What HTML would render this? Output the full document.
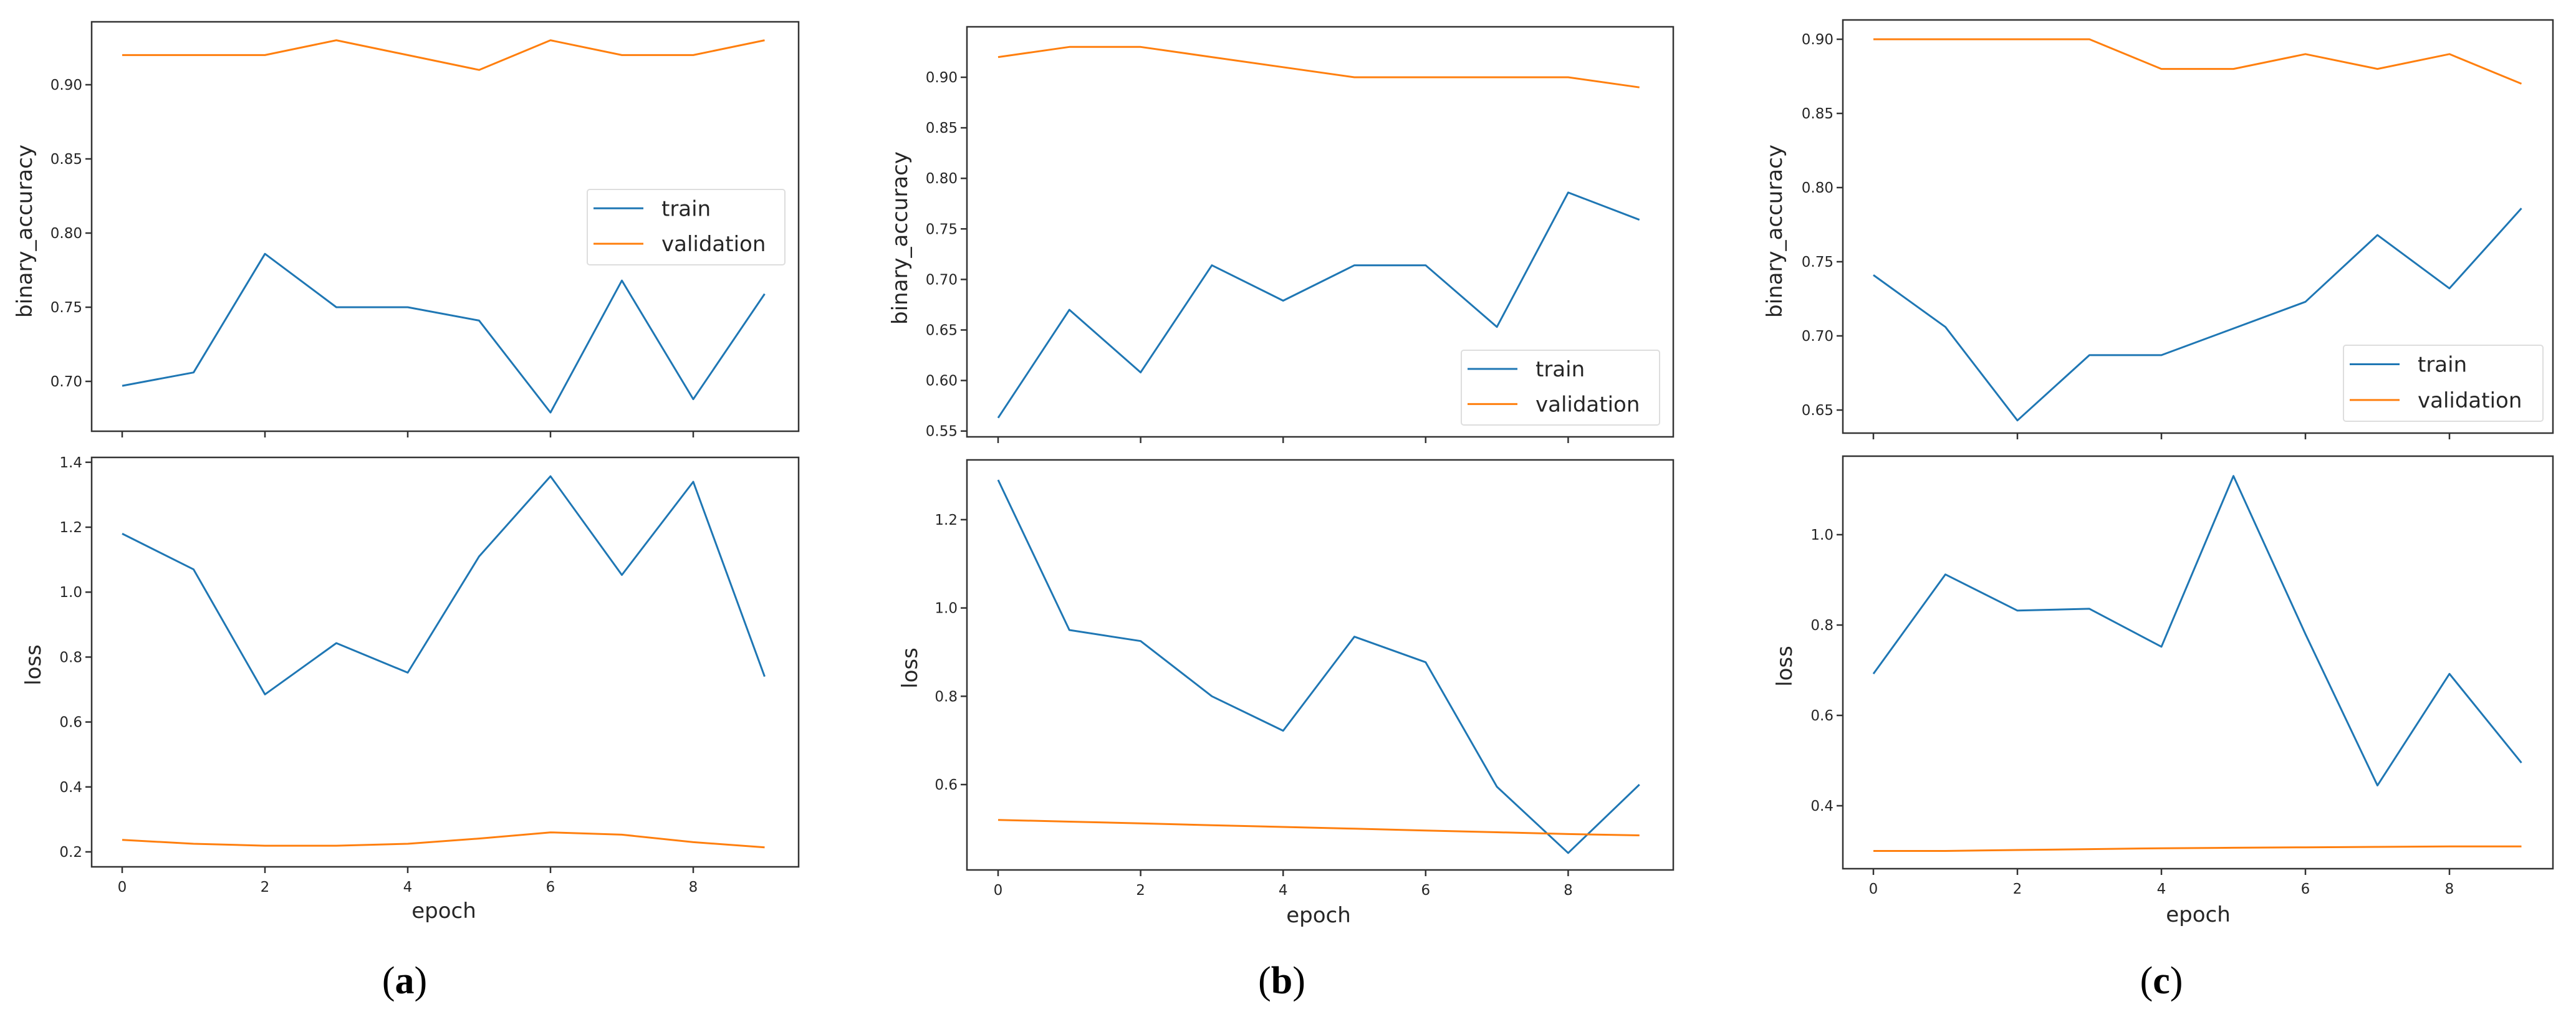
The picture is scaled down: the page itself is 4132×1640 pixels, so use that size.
<!DOCTYPE html>
<html><head><meta charset="utf-8"><style>
html,body{margin:0;padding:0;background:#fff;}
svg{display:block;}
text{font-family:"DejaVu Sans","Liberation Sans",sans-serif;fill:#262626;}
</style></head>
<body>
<svg id="fig" width="4132" height="1640" viewBox="0 0 4132 1640" xmlns="http://www.w3.org/2000/svg"></svg>
<script>
const epochs = [0,1,2,3,4,5,6,7,8,9];
const xTicks = [0,2,4,6,8];
// panel a
const aAccTrain = [0.697,0.706,0.786,0.75,0.75,0.741,0.679,0.768,0.688,0.759];
const aAccVal   = [0.92,0.92,0.92,0.93,0.92,0.91,0.93,0.92,0.92,0.93];
const aLossTrain = [1.18,1.07,0.685,0.843,0.752,1.11,1.357,1.053,1.34,0.74];
const aLossVal   = [0.237,0.225,0.219,0.219,0.225,0.241,0.26,0.253,0.23,0.214];
const aAccTicks = ["0.70","0.75","0.80","0.85","0.90"];
const aLossTicks = ["0.2","0.4","0.6","0.8","1.0","1.2","1.4"];
// panel b
const bAccTrain = [0.563,0.67,0.608,0.714,0.679,0.714,0.714,0.653,0.786,0.759];
const bAccVal   = [0.92,0.93,0.93,0.92,0.91,0.90,0.90,0.90,0.90,0.89];
const bLossTrain = [1.29,0.95,0.925,0.80,0.722,0.935,0.877,0.595,0.445,0.60];
const bLossVal   = [0.52,0.516,0.512,0.508,0.504,0.50,0.496,0.492,0.488,0.485];
const bAccTicks = ["0.55","0.60","0.65","0.70","0.75","0.80","0.85","0.90"];
const bLossTicks = ["0.6","0.8","1.0","1.2"];
// panel c
const cAccTrain = [0.741,0.706,0.643,0.687,0.687,0.705,0.723,0.768,0.732,0.786];
const cAccVal   = [0.90,0.90,0.90,0.90,0.88,0.88,0.89,0.88,0.89,0.87];
const cLossTrain = [0.692,0.912,0.832,0.836,0.752,1.13,0.78,0.445,0.692,0.495];
const cLossVal   = [0.30,0.30,0.302,0.304,0.306,0.307,0.308,0.309,0.31,0.31];
const cAccTicks = ["0.65","0.70","0.75","0.80","0.85","0.90"];
const cLossTicks = ["0.4","0.6","0.8","1.0"];

const NS="http://www.w3.org/2000/svg";
const svg=document.getElementById('fig');
function mk(tag,attrs,parent){const e=document.createElementNS(NS,tag);for(const k in attrs)e.setAttribute(k,attrs[k]);(parent||svg).appendChild(e);return e;}

const panels=[
 {id:'a',left:147,right:1281,x0:196,dx:114.5,
  top:{t:35,b:692,v0:0.90,y0:136,k:119/0.05,tr:aAccTrain,va:aAccVal,ticks:aAccTicks},
  bot:{t:734,b:1391,v0:0.2,y0:1367,k:104.2/0.2,tr:aLossTrain,va:aLossVal,ticks:aLossTicks},
  leg:{x:942,y:304,w:317,h:121},accLab:[40,371],lossLab:[54,1067],epoch:[712,1462],cap:[649,1574]},
 {id:'b',left:1551,right:2684,x0:1601,dx:114.3,
  top:{t:43,b:701,v0:0.90,y0:124,k:81.1/0.05,tr:bAccTrain,va:bAccVal,ticks:bAccTicks},
  bot:{t:738,b:1396,v0:0.6,y0:1259,k:141.7/0.2,tr:bLossTrain,va:bLossVal,ticks:bLossTicks},
  leg:{x:2344,y:562,w:318,h:120},accLab:[1444,382],lossLab:[1460,1072],epoch:[2115,1469],cap:[2056,1574]},
 {id:'c',left:2956,right:4095,x0:3005,dx:115.5,
  top:{t:32,b:695,v0:0.90,y0:63,k:119/0.05,tr:cAccTrain,va:cAccVal,ticks:cAccTicks},
  bot:{t:732,b:1394,v0:0.4,y0:1293,k:145/0.2,tr:cLossTrain,va:cLossVal,ticks:cLossTicks},
  leg:{x:3759,y:554,w:320,h:122},accLab:[2847,371],lossLab:[2863,1069],epoch:[3526,1468],cap:[3467,1574]}
];

function drawAxes(p,ax,kind,g,showXLabels){
  const xs=e=>p.x0+e*p.dx;
  const ys=v=>ax.y0-(v-ax.v0)*ax.k;
  const clip=mk('clipPath',{id:'clip-'+p.id+kind},g);
  mk('rect',{x:p.left,y:ax.t,width:p.right-p.left,height:ax.b-ax.t},clip);
  const lines=mk('g',{'clip-path':'url(#clip-'+p.id+kind+')'},g);
  const series=[[ax.tr,'#1f77b4','train'],[ax.va,'#ff7f0e','validation']];
  series.forEach(s=>{
    const pts=epochs.map((e,i)=>xs(e).toFixed(1)+','+ys(s[0][i]).toFixed(1)).join(' ');
    const pl=mk('polyline',{points:pts,fill:'none',stroke:s[1],'stroke-width':3,'stroke-linejoin':'round'},lines);
    
    
  });
  const frame=mk('rect',{x:p.left,y:ax.t,width:p.right-p.left,height:ax.b-ax.t,fill:'none',stroke:'#333','stroke-width':2.5},g);
  
  
  ax.ticks.forEach(t=>{
    const y=ys(parseFloat(t));
    mk('line',{x1:p.left-10,x2:p.left,y1:y,y2:y,stroke:'#333','stroke-width':2.5},g);
    const tx=mk('text',{x:p.left-15,y:y+8,'text-anchor':'end','font-size':23},g);
    tx.textContent=t;
    
    
  });
  xTicks.forEach(t=>{
    const x=xs(t);
    mk('line',{x1:x,x2:x,y1:ax.b,y2:ax.b+10,stroke:'#333','stroke-width':2.5},g);
    if(showXLabels){
      const tx=mk('text',{x:x,y:ax.b+40,'text-anchor':'middle','font-size':23},g);
      tx.textContent=String(t);
      
      
    }
  });
}

panels.forEach(p=>{
  const g=mk('g',{});
  
  
  drawAxes(p,p.top,'accuracy',g,false);
  drawAxes(p,p.bot,'loss',g,true);
  // legend
  const lg=mk('g',{},g);
  
  
  mk('rect',{x:p.leg.x,y:p.leg.y,width:p.leg.w,height:p.leg.h,rx:4,fill:'#fff','fill-opacity':0.8,stroke:'#ddd','stroke-width':2},lg);
  [['train','#1f77b4',0.25],['validation','#ff7f0e',0.72]].forEach(e=>{
    const y=p.leg.y+p.leg.h*e[2];
    mk('line',{x1:p.leg.x+10,x2:p.leg.x+90,y1:y,y2:y,stroke:e[1],'stroke-width':3},lg);
    const t=mk('text',{x:p.leg.x+119,y:y+12,'font-size':34},lg);
    t.textContent=e[0];
    
    
  });
  const al=mk('text',{x:p.accLab[0],y:p.accLab[1],'text-anchor':'middle','font-size':34,transform:'rotate(-90 '+p.accLab[0]+' '+p.accLab[1]+')','dominant-baseline':'central'},g);
  al.textContent='binary_accuracy';
  
  
  const ll=mk('text',{x:p.lossLab[0],y:p.lossLab[1],'text-anchor':'middle','font-size':34,transform:'rotate(-90 '+p.lossLab[0]+' '+p.lossLab[1]+')','dominant-baseline':'central'},g);
  ll.textContent='loss';
  
  
  const el=mk('text',{x:p.epoch[0],y:p.epoch[1],'text-anchor':'middle','font-size':34,'dominant-baseline':'central'},g);
  el.textContent='epoch';
  
  
  const cap=mk('text',{x:p.cap[0],y:p.cap[1],'text-anchor':'middle','font-size':62,'dominant-baseline':'central',style:'font-family:"Liberation Serif",serif;fill:#000'},g);
  cap.innerHTML='(<tspan font-weight="bold">'+p.id+'</tspan>)';
  
  
});
</script>
</body></html>
